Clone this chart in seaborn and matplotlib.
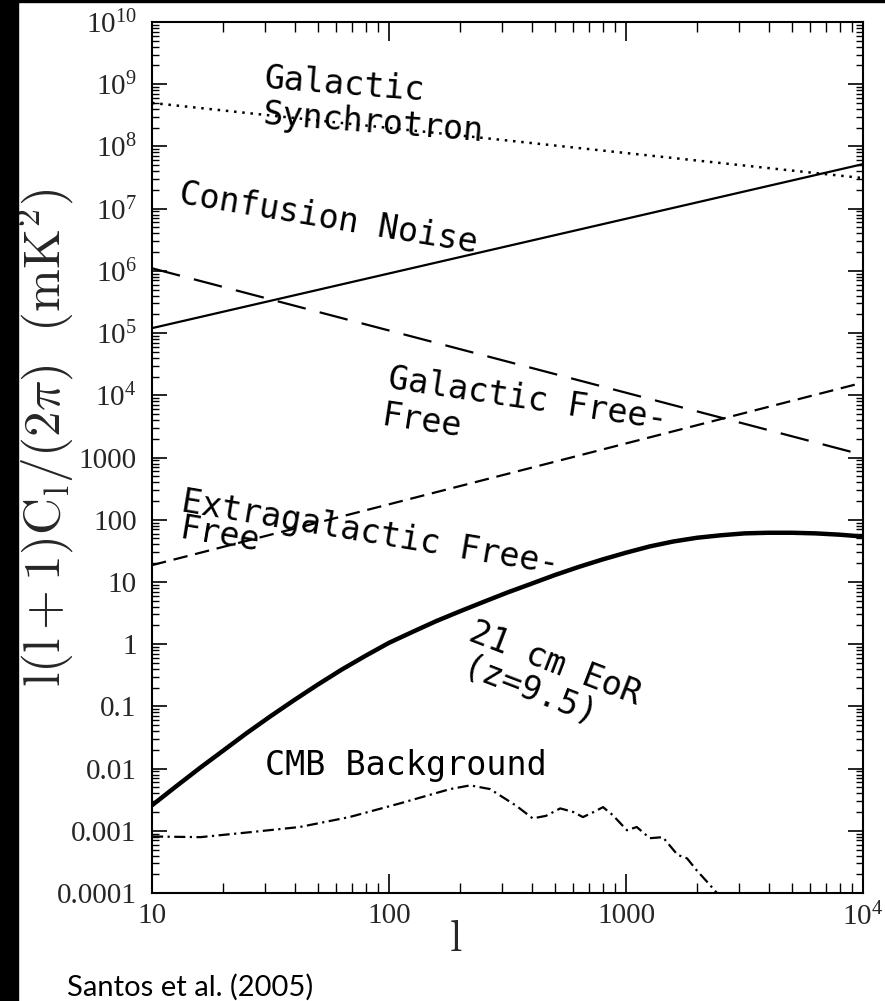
import numpy as np
import pandas as pd
import matplotlib
matplotlib.use("Agg")
import matplotlib.pyplot as plt
import seaborn as sns
from matplotlib.patches import Rectangle
from matplotlib.ticker import FixedLocator, FixedFormatter, LogLocator, NullFormatter

# ---------------- data ----------------
l_powerlaw = [10, 10000]
synchrotron = [5.0e8, 3.1e7]
confusion = [1.2e5, 5.2e7]
galactic_ff = [1.1e6, 1.1e3]
extragalactic_ff = [18.6, 1.6e4]

l_eor = [10, 12.6, 15.8, 20, 25.1, 31.6, 39.8, 50.1, 63.1, 79.4, 100, 126, 158, 200,
         251, 316, 398, 501, 631, 794, 1000, 1259, 1585, 1995, 2512, 3162, 3981,
         5012, 6310, 7943, 10000]
eor = [0.00257, 0.00513, 0.0100, 0.0195, 0.0372, 0.0692, 0.126, 0.224, 0.389, 0.646,
       1.05, 1.58, 2.34, 3.39, 4.79, 6.76, 9.33, 12.9, 17.4, 22.9, 29.5, 37.2, 44.7,
       51.3, 56.2, 60.3, 61.7, 61.7, 60.3, 57.5, 53.7]

l_cmb = [10, 16, 26, 42, 68, 111, 181, 220, 267, 345, 404, 460, 528, 600, 658,
         730, 800, 880, 1009, 1110, 1260, 1430, 1650, 1810, 1990, 2200, 2420]
cmb = [0.00081, 0.00079, 0.00095, 0.00115, 0.00166, 0.00275, 0.00468, 0.00537,
       0.00468, 0.00251, 0.00158, 0.00174, 0.00229, 0.00200, 0.00166, 0.00200,
       0.00240, 0.00178, 0.00102, 0.00115, 0.00076, 0.00079, 0.00041, 0.00036,
       0.00023, 0.000151, 0.0001]

xtick_vals = [10, 100, 1000, 10000]
xtick_labels = ["10", "100", "1000", r"$\mathregular{10^{4}}$"]
ytick_vals = [1e-4, 1e-3, 1e-2, 1e-1, 1, 10, 100, 1000, 1e4, 1e5, 1e6, 1e7, 1e8, 1e9, 1e10]
ytick_labels = ["0.0001", "0.001", "0.01", "0.1", "1", "10", "100", "1000",
                r"$\mathregular{10^{4}}$", r"$\mathregular{10^{5}}$", r"$\mathregular{10^{6}}$",
                r"$\mathregular{10^{7}}$", r"$\mathregular{10^{8}}$", r"$\mathregular{10^{9}}$",
                r"$\mathregular{10^{10}}$"]

curve_labels = ["Galactic", "Synchrotron", "Confusion Noise", "Galactic Free-", "Free",
                "Extragalactic Free-", "Free", "21 cm EoR", "(z=9.5)", "CMB Background"]

# ---------------- style ----------------
sns.set_style("ticks")
plt.rcParams["font.family"] = ["Liberation Serif", "DejaVu Serif"]
plt.rcParams["mathtext.fontset"] = "custom"
plt.rcParams["mathtext.rm"] = "Liberation Serif"
plt.rcParams["mathtext.it"] = "Liberation Serif:italic"
plt.rcParams["mathtext.bf"] = "Liberation Serif:bold"

W, H = 885, 1001
fig = plt.figure(figsize=(W / 100, H / 100), dpi=100, facecolor="white")
L, R, T, B = 152, 863, 22, 893
ax = fig.add_axes([L / W, 1 - B / H, (R - L) / W, (B - T) / H])

def px_to_ax(px, py):
    return (px - L) / (R - L), (B - py) / (B - T)

# ---------------- curves ----------------
series = [
    (l_powerlaw, synchrotron, dict(lw=1.8, linestyle=(0, (1, 2.3)))),
    (l_powerlaw, confusion, dict(lw=1.6, linestyle="-")),
    (l_powerlaw, galactic_ff, dict(lw=1.6, linestyle=(0, (13, 6.5)))),
    (l_powerlaw, extragalactic_ff, dict(lw=1.6, linestyle=(0, (6.5, 3.5)))),
    (l_eor, eor, dict(lw=3.2, linestyle="-")),
    (l_cmb, cmb, dict(lw=1.6, linestyle=(0, (5, 2, 1, 2)))),
]
for xs, ys, kw in series:
    df = pd.DataFrame({"l": xs, "v": ys})
    sns.lineplot(data=df, x="l", y="v", ax=ax, color="black", sort=False,
                 estimator=None, clip_on=True, **kw)

ax.set_xscale("log")
ax.set_yscale("log")
ax.set_xlim(10, 1e4)
ax.set_ylim(1e-4, 1e10)

ax.xaxis.set_major_locator(FixedLocator(xtick_vals))
ax.xaxis.set_major_formatter(FixedFormatter(xtick_labels))
ax.xaxis.set_minor_locator(LogLocator(base=10, subs=np.arange(2, 10), numticks=100))
ax.xaxis.set_minor_formatter(NullFormatter())
ax.yaxis.set_major_locator(FixedLocator(ytick_vals))
ax.yaxis.set_major_formatter(FixedFormatter(ytick_labels))
ax.yaxis.set_minor_locator(LogLocator(base=10, subs=np.arange(2, 10), numticks=100))
ax.yaxis.set_minor_formatter(NullFormatter())

ax.tick_params(which="both", direction="in", top=True, right=True, color="black")
ax.tick_params(axis="x", which="major", length=14, width=1.2, labelsize=21, pad=7)
ax.tick_params(axis="x", which="minor", length=7, width=1.0)
ax.tick_params(axis="y", which="major", length=11, width=1.2, labelsize=21, pad=11)
ax.tick_params(axis="y", which="minor", length=5, width=1.0)
for s in ax.spines.values():
    s.set_linewidth(1.5)
    s.set_color("black")

ax.set_xlabel(r"$\mathrm{l}$", fontsize=32, math_fontfamily="cm")
ax.xaxis.set_label_coords(*px_to_ax(456, 920))
ax.set_ylabel(r"$\mathrm{l(l+1)C_l/(2\pi)}\ \ \mathrm{(mK^2)}$", fontsize=37,
              math_fontfamily="cm")
ax.yaxis.set_label_coords(*px_to_ax(76, 438))

# ---------------- curve labels ----------------
label_pos = [
    (263, 88, -4.5), (262, 124, -4.5), (178, 203, -9.5),
    (387, 388, -8.5), (380, 425, -8.5),
    (180, 511, -9.5), (178, 538, -9.5),
    (467, 640, -21), (460, 676, -21),
    (265, 775, 0),
]
for txt, (px, py, rot) in zip(curve_labels, label_pos):
    ax.text(*px_to_ax(px, py), txt, transform=ax.transAxes, fontsize=24,
            family="DejaVu Sans Mono", rotation=rot, rotation_mode="anchor",
            ha="left", va="baseline", color="black")

fig.text(67 / W, 1 - 996 / H, "Santos et al. (2005)", fontsize=21, family="Lato",
         ha="left", va="baseline", color="black")

# black frame strips of the reference image
fig.patches.append(Rectangle((0, 0), 18 / W, 1, transform=fig.transFigure,
                             color="black", zorder=10))
fig.patches.append(Rectangle((0, 1 - 2 / H), 1, 2 / H, transform=fig.transFigure,
                             color="black", zorder=10))

fig.savefig("out.png", dpi=100, facecolor="white")
